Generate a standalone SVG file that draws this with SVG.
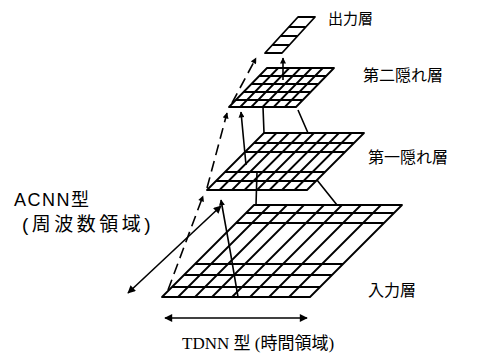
<svg xmlns="http://www.w3.org/2000/svg" width="483" height="358" viewBox="0 0 483 358">
<style>
.g{fill:none;stroke:#000;stroke-width:1.8;stroke-linejoin:round}
.c{fill:none;stroke:#000;stroke-width:1.6}
.d{stroke-dasharray:11 6}
.t{font-family:"Liberation Sans","Noto Sans CJK JP",sans-serif;fill:#000}
.ts{font-family:"Liberation Serif","Noto Sans CJK JP",serif;fill:#000}
</style>
<defs>
<marker id="ah" viewBox="0 0 10 10" refX="9" refY="5" markerWidth="11" markerHeight="8" markerUnits="userSpaceOnUse" orient="auto-start-reverse"><path d="M0,0 L10,5 L0,10 z" fill="#000"/></marker>
<marker id="as" viewBox="0 0 10 10" refX="9" refY="5" markerWidth="8" markerHeight="6" markerUnits="userSpaceOnUse" orient="auto"><path d="M0,0 L10,5 L0,10 z" fill="#000"/></marker>
</defs>
<rect width="483" height="358" fill="#fff"/>
<g id="input-layer" class="g">
<path d="M162,297 L310,297 L402,205 L254,205 Z"/>
<path d="M246,213H394 M236,223H384 M195,264H343 M184,275H332 M172,287H320"/>
<path d="M178,297L270,205 M195,297L287,205 M212,297L304,205 M232,297L324,205 M250,297L342,205 M269,297L361,205 M289,297L381,205"/>
</g>
<g id="hidden1-layer" class="g">
<path d="M207,190 L307,190 L364,133 L264,133 Z"/>
<path d="M254,143H354 M245,152H345 M225,172H325 M216,181H316"/>
<path d="M219.5,190L276.5,133 M232,190L289,133 M244.5,190L301.5,133 M257,190L314,133 M269.5,190L326.5,133 M282,190L339,133 M294.5,190L351.5,133"/>
</g>
<g id="hidden2-layer" class="g">
<path d="M229,107 L296,107 L334,68 L267,68 Z"/>
<path d="M259.2,76H326.2 M251.4,84H318.4 M243.6,92H310.6 M235.8,100H302.8"/>
<path d="M240.2,107L278.2,68 M251.3,107L289.3,68 M262.5,107L300.5,68 M273.7,107L311.7,68 M284.8,107L322.8,68"/>
</g>
<g id="output-layer" class="g">
<path d="M265,53 L282,53 L315,17 L298,17 Z"/>
<path d="M288.8,27H305.8 M280.6,36H297.6 M272.3,45H289.3"/>
</g>
<g id="connectors" class="c">
<line x1="128" y1="293" x2="221" y2="206" marker-start="url(#ah)" marker-end="url(#ah)"/>
<line x1="165" y1="318" x2="307" y2="318" marker-start="url(#ah)" marker-end="url(#ah)"/>
<path class="d" d="M168,290 L203,196" marker-end="url(#as)"/>
<path class="d" d="M207,188 L227,113" marker-end="url(#as)"/>
<path class="d" d="M232,103 L256,58" marker-end="url(#as)"/>
<path d="M238,297 L230,250 L221,200" marker-end="url(#as)"/>
<path d="M246,165 L241,112" marker-end="url(#as)"/>
<path d="M283,80 L283,58" marker-end="url(#as)"/>
<path d="M263,107 L264,133 M298,110 L308,133 M257,172 L256,205 M317,180 L337,205"/>
</g>
<g id="labels">
<text class="t" x="328" y="24" font-size="15">出力層</text>
<text class="t" x="363" y="81" font-size="16">第二隠れ層</text>
<text class="t" x="368" y="163" font-size="16">第一隠れ層</text>
<text class="t" x="368" y="296" font-size="16">入力層</text>
<text class="t" x="14" y="206" font-size="18" letter-spacing="1.5">ACNN型</text>
<text class="t" x="22" y="231" font-size="19" letter-spacing="3.5">(周波数領域)</text>
<text class="ts" x="182" y="349" font-size="17">TDNN 型 (時間領域)</text>
</g>
</svg>
